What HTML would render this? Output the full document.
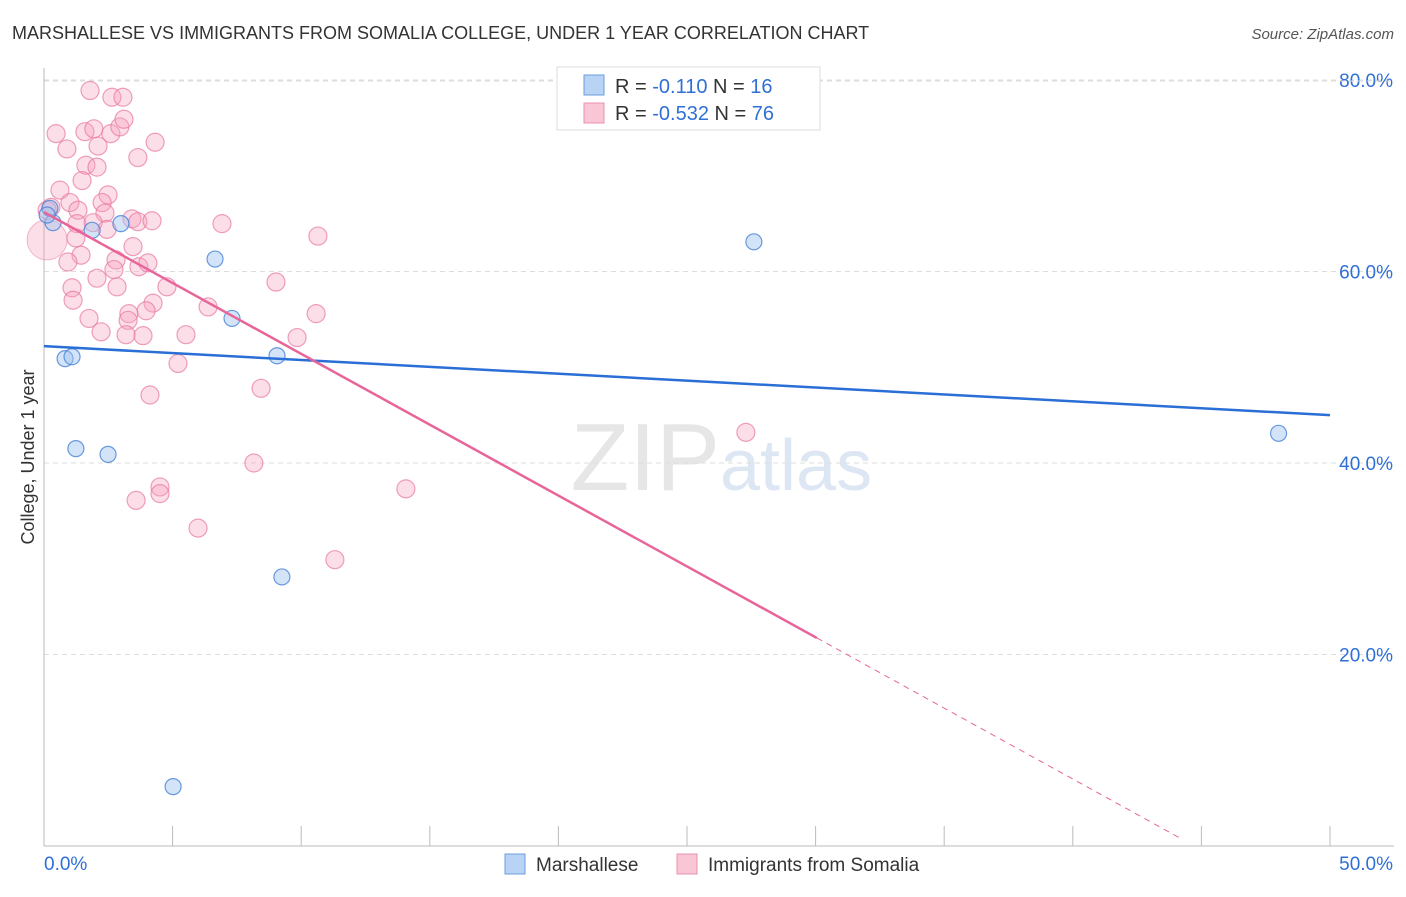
<!DOCTYPE html>
<html><head><meta charset="utf-8"><style>
body{margin:0;background:#fff;font-family:"Liberation Sans",sans-serif}
svg text{font-family:"Liberation Sans",sans-serif}
</style></head><body>
<svg id="c" width="1406" height="892" xmlns="http://www.w3.org/2000/svg">
<text x="12" y="39" font-size="18" fill="#333">MARSHALLESE VS IMMIGRANTS FROM SOMALIA COLLEGE, UNDER 1 YEAR CORRELATION CHART</text>
<text x="1394" y="39" font-size="15" fill="#555" text-anchor="end" font-style="italic">Source: ZipAtlas.com</text>
<text x="720" y="490" font-size="96" fill="#e6e6e6" font-family="Liberation Serif" text-anchor="end">ZIP</text>
<text x="720" y="490" font-size="72" fill="#dde6f3">atlas</text>
<g id="grid"></g><g id="axes"></g><g id="pts"></g><g id="lines"></g>
<text transform="translate(34,457) rotate(-90)" font-size="18" fill="#333" text-anchor="middle">College, Under 1 year</text>
<g>
<rect x="557" y="67" width="263" height="63" fill="#fff" stroke="#ddd"/>
<rect x="584" y="75" width="20" height="20" fill="#b9d3f5" stroke="#6a9ee0"/>
<rect x="584" y="103" width="20" height="20" fill="#f9c6d6" stroke="#eb90ad"/>
<text x="615" y="93" font-size="20" fill="#333">R = <tspan fill="#2f6fd6">-0.110</tspan>   N = <tspan fill="#2f6fd6">16</tspan></text>
<text x="615" y="120" font-size="20" fill="#333">R = <tspan fill="#2f6fd6">-0.532</tspan>   N = <tspan fill="#2f6fd6">76</tspan></text>
</g>
<g>
<rect x="505" y="854" width="20" height="20" fill="#b9d3f5" stroke="#6a9ee0"/>
<text x="536" y="871" font-size="19" fill="#333">Marshallese</text>
<rect x="677" y="854" width="20" height="20" fill="#f9c6d6" stroke="#eb90ad"/>
<text x="708" y="871" font-size="19" fill="#333">Immigrants from Somalia</text>
</g>
</svg>
<script>
const xTicks=[0,5,10,15,20,25,30,35,40,45,50];
const yTicks=[20,40,60,80];
const blueX=[0.35,0.82,1.09,1.24,1.87,2.49,2.99,5.02,6.65,7.31,9.06,9.25,27.6,48.0,0.23,0.12];
const blueY=[65.1,50.9,51.1,41.5,64.3,40.9,65.0,6.2,61.3,55.1,51.2,28.1,63.1,43.1,66.6,65.9];
const pinkX=[1.79,2.64,3.07,0.47,1.59,1.94,2.60,2.95,3.11,0.89,2.10,4.32,3.65,1.63,2.06,1.48,0.62,2.49,1.01,2.26,1.32,0.27,2.37,3.42,3.65,4.20,6.92,10.65,1.28,1.91,2.45,3.46,1.24,1.44,0.93,2.80,2.72,3.69,4.04,2.06,2.84,4.78,9.02,1.09,1.13,4.24,3.97,6.38,10.58,3.30,3.27,1.75,2.22,3.19,3.85,5.52,9.84,5.21,4.12,8.44,8.16,14.07,27.29,4.51,4.51,3.58,5.99,11.31,0.12];
const pinkY=[78.9,78.2,78.2,74.4,74.6,74.9,74.4,75.1,75.9,72.8,73.1,73.5,71.9,71.1,70.9,69.5,68.5,68.0,67.2,67.2,66.4,66.7,66.1,65.5,65.2,65.3,65.0,63.7,65.0,65.1,64.4,62.6,63.5,61.7,61.0,61.2,60.2,60.5,60.9,59.3,58.4,58.4,58.9,58.3,57.0,56.7,55.9,56.3,55.6,55.6,54.9,55.1,53.7,53.4,53.3,53.4,53.1,50.4,47.1,47.8,40.0,37.3,43.2,37.5,36.8,36.1,33.2,29.9,66.4];
const blueTrend=[52.2,45.0];          // y at x=0 and x=50
const pinkTrend=[66.2,-1.48];         // intercept, slope
const pinkSolidEnd=30.05, pinkDashEnd=44.2;
const NS="http://www.w3.org/2000/svg";
const X=v=>44+v/50*1286, Y=v=>846-v*9.575;
function mk(p,t,a){const e=document.createElementNS(NS,t);for(const k in a)e.setAttribute(k,a[k]);document.getElementById(p).appendChild(e);return e;}
yTicks.forEach(t=>{
 const g=mk('grid','line',{x1:44,x2:1394,y1:Y(t),y2:Y(t),stroke:'#ddd','stroke-dasharray':'5,4'});
 
 
 const l=mk('grid','text',{x:1393,y:Y(t)+7,'font-size':19,fill:'#2f6fd6','text-anchor':'end'});l.textContent=t.toFixed(1)+'%';
 
 
});
mk('grid','line',{x1:44,x2:1394,y1:Y(80)+1,y2:Y(80)+1,stroke:'#ddd','stroke-dasharray':'5,4'});
const ax=mk('axes','line',{x1:44,x2:44,y1:68,y2:846,stroke:'#bbb'});


const bx=mk('axes','line',{x1:44,x2:1394,y1:846,y2:846,stroke:'#bbb'});


xTicks.forEach(t=>{const tk=mk('axes','line',{x1:X(t),x2:X(t),y1:826,y2:846,stroke:'#bbb'});
 
 });
[[0,'start'],[50,'end']].forEach(([t,a])=>{const l=mk('axes','text',{x:t==0?44:1393,y:870,'font-size':19,fill:'#2f6fd6','text-anchor':a});l.textContent=t.toFixed(1)+'%';
 
 });
pinkX.forEach((x,i)=>{const c=mk('pts','circle',{cx:X(x),cy:Y(pinkY[i]),r:i==pinkX.length-1?9:9,fill:'rgba(245,160,188,0.35)',stroke:'rgba(232,120,160,0.7)','stroke-width':1.2});
 
 });
const big=mk('pts','circle',{cx:X(0.12),cy:Y(63.3),r:20,fill:'rgba(245,160,188,0.35)',stroke:'rgba(232,120,160,0.5)'});


blueX.forEach((x,i)=>{const c=mk('pts','circle',{cx:X(x),cy:Y(blueY[i]),r:8,fill:'rgba(160,195,240,0.45)',stroke:'rgba(70,130,215,0.8)','stroke-width':1.2});
 
 });
const bl=mk('lines','line',{x1:X(0),y1:Y(blueTrend[0]),x2:X(50),y2:Y(blueTrend[1]),stroke:'#2a6fd6','stroke-width':2.5});


const py=x=>pinkTrend[0]+pinkTrend[1]*x;
const pl=mk('lines','line',{x1:X(0),y1:Y(py(0)),x2:X(pinkSolidEnd),y2:Y(py(pinkSolidEnd)),stroke:'#e8659a','stroke-width':2.5});


const pd=mk('lines','line',{x1:X(pinkSolidEnd),y1:Y(py(pinkSolidEnd)),x2:X(pinkDashEnd),y2:Y(py(pinkDashEnd)),stroke:'#e8659a','stroke-width':1,'stroke-dasharray':'6,5'});


</script>
</body></html>
